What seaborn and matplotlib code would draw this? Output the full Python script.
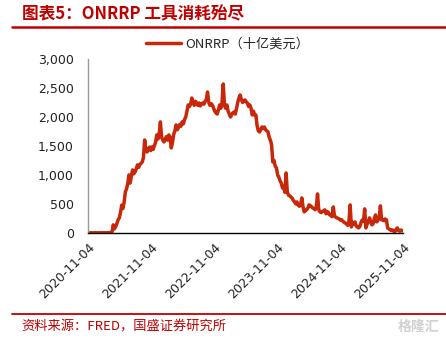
import matplotlib
matplotlib.use("Agg")
import matplotlib.pyplot as plt
from matplotlib.lines import Line2D
import seaborn as sns
import pandas as pd

# Weekly (Wednesday) readings of overnight reverse repo usage, billions of USD,
# one row per calendar month
onrrp = [
    1, 0, 2, 1,                          # 2020-11
    2, 1, 3, 1, 2,                       # 2020-12
    1, 2, 1, 3,                          # 2021-01
    2, 4, 1, 3,
    2, 3, 5, 20, 138,
    70, 110, 160, 224,
    260, 350, 480, 420,
    530, 707, 760, 850, 1000,
    860, 980, 1086, 1020,
    1050, 1100, 1172, 1130,
    1180, 1200, 1224, 1300, 1603,
    1420, 1396, 1450, 1480,
    1420, 1483, 1440, 1500,
    1560, 1690, 1620, 1700, 1914,
    1650, 1600, 1569, 1620,              # 2022-01
    1660, 1600, 1690, 1650,
    1465, 1560, 1700, 1760, 1862,
    1780, 1820, 1870, 1840,
    1914, 1880, 1960, 2000,
    2100, 2207, 2180, 2220, 2327,
    2250, 2200, 2270, 2241,
    2200, 2240, 2190, 2230, 2241,
    2220, 2270, 2300, 2431,
    2250, 2200, 2230, 2207,
    2150, 2100, 2069, 2050, 2120,
    2207, 2150, 2250, 2569,
    2200, 2150, 2207, 2100,              # 2023-01
    2050, 2000, 2040, 2070,
    2086, 2050, 2150, 2250, 2330,
    2379, 2300, 2250, 2280,
    2293, 2260, 2240, 2180, 2207,
    2150, 2034, 2100, 2034,
    2034, 1850, 1760, 1741,
    1780, 1827, 1800, 1827, 1780,
    1760, 1741, 1650, 1600,
    1517, 1224, 1250, 1150,
    1121, 1000, 960, 900, 860,
    776, 800, 700, 1034,
    707, 650, 640, 620, 600,             # 2024-01
    560, 534, 500, 534,
    480, 460, 483, 603,
    450, 362, 380, 400,
    430, 483, 470, 450, 431,
    420, 400, 450, 672,
    400, 362, 350, 370, 380,
    397, 330, 370, 350,
    310, 300, 280, 448,
    300, 270, 259, 250, 240,
    220, 224, 200, 180,
    172, 150, 130, 200,
    483, 103, 180, 150, 190,             # 2025-01
    120, 100, 86, 110,
    180, 224, 200, 414,
    86, 150, 190, 259, 200,
    138, 160, 250, 310,
    190, 220, 250, 466,
    224, 230, 210, 240, 224,
    86, 70, 52, 40,
    52, 30, 20, 60,
    86, 40, 30, 50, 34,
    40,                                  # 2025-11-04
]
first_week = "2020-11-04"
last_date = "2025-11-04"

tick_dates = ["2020-11-04", "2021-11-04", "2022-11-04", "2023-11-04", "2024-11-04", "2025-11-04"]
y_ticks = [0, 500, 1000, 1500, 2000, 2500, 3000]

title = "图表5：ONRRP 工具消耗殆尽"
series_name = "ONRRP（十亿美元）"
source = "资料来源：FRED，国盛证券研究所"

RED = "#C00000"
LINE = "#C8270A"

sns.set_theme(style="white")
plt.rcParams["font.family"] = ["Noto Sans CJK SC", "DejaVu Sans"]

weeks = list(pd.date_range(first_week, periods=len(onrrp) - 1, freq="7D"))
df = pd.DataFrame({"date": weeks + [pd.Timestamp(last_date)], "value": onrrp})

fig = plt.figure(figsize=(4.46, 3.39), dpi=100)
ax = fig.add_axes([0.197, 0.313, 0.707, 0.513])

sns.lineplot(data=df, x="date", y="value", ax=ax, color=LINE, linewidth=2.5,
             legend=False)

ax.set_xlim(pd.Timestamp(tick_dates[0]), pd.Timestamp(tick_dates[-1]))
ax.set_ylim(0, 3000)
ax.set_xticks(pd.to_datetime(tick_dates))
ax.set_xticklabels(tick_dates, rotation=45, ha="right", rotation_mode="anchor",
                   fontsize=9, family=["DejaVu Sans"])
ax.set_yticks(y_ticks)
ax.set_yticklabels([f"{v:,}" for v in y_ticks], fontsize=9, family=["DejaVu Sans"])
ax.set_xlabel("")
ax.set_ylabel("")

for side in ("top", "right"):
    ax.spines[side].set_visible(False)
ax.spines["left"].set_color("#999999")
ax.spines["left"].set_linewidth(1.0)
ax.spines["bottom"].set_color("#000000")
ax.spines["bottom"].set_linewidth(1.0)
ax.tick_params(axis="x", direction="out", length=4, width=0.8, color="#888888",
               pad=2, labelcolor="#222222")
ax.tick_params(axis="y", direction="out", length=4, width=0.8, color="#888888",
               pad=6, labelcolor="#222222")
ax.grid(False)

# legend above the plot
handle = Line2D([0], [0], color=LINE, linewidth=2.5)
fig.legend([handle], [series_name], loc="center", bbox_to_anchor=(0.51, 0.870),
           frameon=False, fontsize=9.5, handlelength=2.7, handletextpad=0.3)

# title, rules and source note
fig.text(0.049, 0.958, title, color=RED, fontsize=12, fontweight="bold",
         fontstyle="italic", va="center", ha="left")
fig.add_artist(Line2D([0.027, 1.0], [0.920, 0.920], color=RED, linewidth=1.8,
                      transform=fig.transFigure))
fig.add_artist(Line2D([0.027, 1.0], [0.074, 0.074], color=RED, linewidth=1.3,
                      transform=fig.transFigure))
fig.text(0.049, 0.035, source, color=RED, fontsize=9.5, fontstyle="italic",
         va="center", ha="left")
fig.text(0.985, 0.035, "格隆汇", color="#D0D0D0", fontsize=10, fontweight="bold",
         va="center", ha="right")

fig.savefig("out.png", dpi=100)
